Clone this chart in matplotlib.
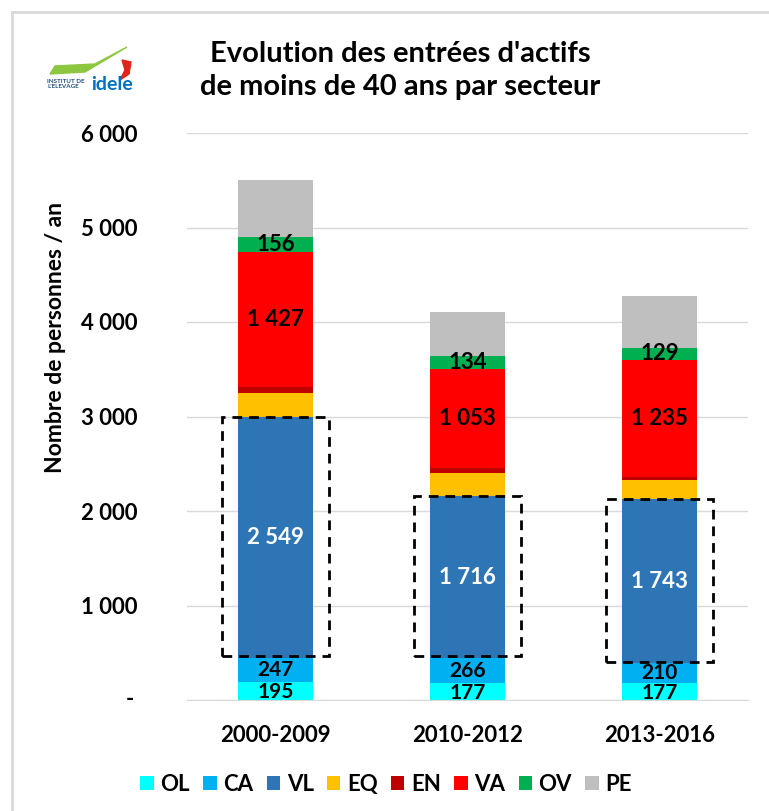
import numpy as np
import matplotlib
matplotlib.use('Agg')
import matplotlib.pyplot as plt
from matplotlib.patches import Rectangle, Polygon
from matplotlib.transforms import blended_transform_factory

plt.rcParams['font.family'] = ['Lato', 'DejaVu Sans']
plt.rcParams['font.weight'] = 'bold'

# Data
periods = ['2000-2009', '2010-2012', '2013-2016']
sectors = ['OL', 'CA', 'VL', 'EQ', 'EN', 'VA', 'OV', 'PE']
ol = [195, 177, 177]
ca = [247, 266, 210]
vl = [2549, 1716, 1743]
eq = [258, 243, 198]
en = [65, 48, 35]
va = [1427, 1053, 1235]
ov = [156, 134, 129]
pe = [606, 469, 548]
labelled = ['OL', 'CA', 'VL', 'VA', 'OV']
colors = ['#00FFFF', '#00B0F0', '#2E75B6', '#FFC000', '#C00000', '#FF0000', '#00B050', '#BFBFBF']

values = [ol, ca, vl, eq, en, va, ov, pe]

def fmt(v):
    return '{:,}'.format(v).replace(',', ' ')

fig = plt.figure(figsize=(7.69, 8.11), dpi=100)

# light frame around the chart
fig.patches.append(Rectangle((12 / 769, -0.1), 1.2, 1.1 - 12 / 811, transform=fig.transFigure,
                             fill=False, edgecolor='#D9D9D9', lw=2))

ax = fig.add_axes([187 / 769, 111 / 811, 561 / 769, 567 / 811])
x = np.arange(len(periods))
w = 0.39
bottom = np.zeros(len(periods))
for name, vals, col in zip(sectors, values, colors):
    vals = np.array(vals)
    ax.bar(x, vals, w, bottom=bottom, color=col, label=name, zorder=2)
    if name in labelled:
        for i in range(len(x)):
            ypos = bottom[i] + vals[i] / 2
            if name == 'OL':
                ypos -= 10
            ax.text(x[i], ypos, fmt(vals[i]), ha='center', va='center',
                    fontsize=15 if name in ('OL', 'CA') else 16, fontweight='bold',
                    color='white' if name == 'VL' else 'black', zorder=4)
    if name == 'VL':
        for i in range(len(x)):
            ax.add_patch(Rectangle((x[i] - w / 2 - 0.085, bottom[i] + 20), w + 0.17, vals[i] - 20,
                                   fill=False, edgecolor='black', lw=2, ls=(0, (3.5, 2.5)),
                                   zorder=5, clip_on=False))
    bottom += vals

ax.set_xlim(-0.46, 2.46)
ax.set_ylim(0, 6000)
ax.set_yticks(np.arange(0, 6001, 1000))
ax.set_yticklabels([''] + [fmt(v) for v in range(1000, 6001, 1000)])
ax.set_xticks(x)
ax.set_xticklabels(periods)
ax.tick_params(axis='both', length=0, labelsize=16)
ax.tick_params(axis='y', pad=76)
ax.tick_params(axis='x', pad=18)
for lab in ax.get_yticklabels():
    lab.set_horizontalalignment('left')
# accounting-style zero
ax.text(-0.095, 0, '-', transform=blended_transform_factory(ax.transAxes, ax.transData),
        ha='right', va='center', fontsize=16, fontweight='bold')
ax.yaxis.grid(True, color='#D9D9D9', lw=1, zorder=0)
for s in ['top', 'right', 'left']:
    ax.spines[s].set_visible(False)
ax.spines['bottom'].set_color('#D9D9D9')
ax.set_ylabel('Nombre de personnes / an', fontsize=16.5, fontweight='bold')
ax.yaxis.set_label_coords(-0.215, 0.64)

ax.legend(loc='upper center', bbox_to_anchor=(0.355, -0.095), ncol=8, frameon=False,
          fontsize=16, handlelength=0.6, handleheight=0.6, handletextpad=0.3, columnspacing=0.6)

fig.text(0.52, 0.913, "Evolution des entrées d'actifs\nde moins de 40 ans par secteur",
         ha='center', va='center', fontsize=21, fontweight='bold', linespacing=1.3)

# logo
fig.patches.append(Polygon([(50 / 769, 1 - 74 / 811), (85 / 769, 1 - 72 / 811), (127 / 769, 1 - 47 / 811),
                            (95 / 769, 1 - 64 / 811), (55 / 769, 1 - 66 / 811)],
                           closed=True, transform=fig.transFigure, color='#8DC63F'))
fig.patches.append(Polygon([(122 / 769, 1 - 60 / 811), (131 / 769, 1 - 62 / 811), (129 / 769, 1 - 74 / 811),
                            (120 / 769, 1 - 80 / 811), (125 / 769, 1 - 70 / 811)],
                           closed=True, transform=fig.transFigure, color='#E2231A'))
fig.text(47 / 769, 1 - 84 / 811, "INSTITUT DE\nL'ELEVAGE", fontsize=4.5, color='#1F4E79',
         va='center', ha='left', linespacing=1.1)
fig.text(91 / 769, 1 - 84 / 811, 'idele', fontsize=14, color='#0070C0', va='center',
         ha='left', fontweight='bold')

fig.savefig('out.png', dpi=100)
